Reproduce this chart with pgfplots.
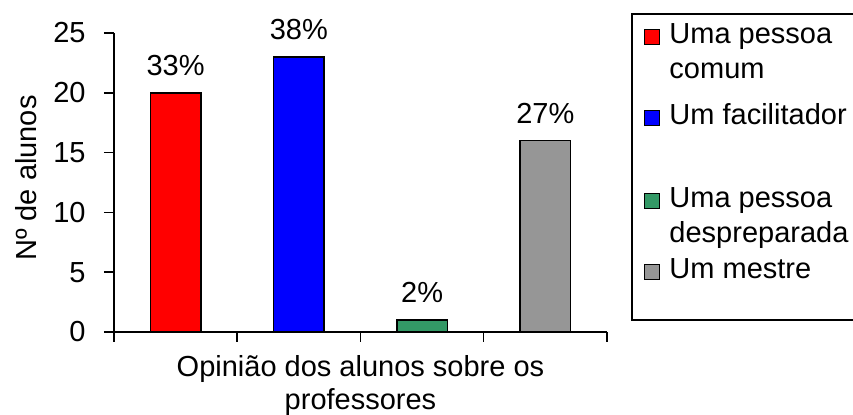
\documentclass[border=0pt]{standalone}
\usepackage{fontspec}
\setmainfont{Liberation Sans}
\usepackage{pgfplots}
\pgfplotsset{compat=1.18}

\definecolor{barred}{RGB}{255,0,0}
\definecolor{barblue}{RGB}{0,0,255}
\definecolor{bargreen}{RGB}{51,153,102}
\definecolor{bargray}{RGB}{150,150,150}

% bar style; the argument is the room kept below the legend row
\pgfplotsset{
  mybar/.style={
    ybar, bar width=0.41, bar shift=0pt,
    draw=black, line width=0.75pt,
    legend image code/.code={%
      \draw[##1,draw=black,line width=0.75pt] (0pt,-0.5pt) rectangle (7.5pt,7pt);
      \path[draw=none,fill=none] (0pt,11pt) -- (0pt,-#1);},
  },
}

\begin{document}
\fontsize{14.5}{17.5}\selectfont
\begin{tikzpicture}
\begin{axis}[
  name=ax, at={(0,0)}, anchor=south west,
  scale only axis, width=246.5pt, height=149.5pt,
  xmin=0, xmax=4, ymin=0, ymax=25,
  axis lines*=left,
  axis line style={line width=0.75pt, black},
  xtick={0,1,2,3,4}, xticklabels={},
  ytick={0,5,10,15,20,25},
  tick align=outside, major tick length=5pt,
  tick style={line width=0.75pt, black},
  /pgf/number format/assume math mode=true,
  yticklabel style={anchor=east, inner sep=0pt, xshift=-9pt},
  ylabel={Nº de alunos},
  ylabel style={at={(axis description cs:-0.1562,0.515)}, anchor=base, inner sep=0pt},
  xlabel={\parbox[t]{300pt}{\centering\fontsize{14.5}{16.5}\selectfont Opinião dos alunos sobre os\\professores}},
  xlabel style={at={(axis description cs:0.5,-0.1495)}, anchor=base, inner sep=0pt},
  clip=false,
  nodes near coords,
  point meta=explicit symbolic,
  every node near coord/.append style={inner sep=0pt, text depth=0pt, yshift=8.25pt},
  legend style={
    at={(axis description cs:1.0507,1.0635)}, anchor=north west,
    draw=none, fill=none, inner xsep=6pt, inner ysep=1.75pt, outer sep=0pt,
    row sep=0pt, column sep=2.5pt,
    cells={anchor=base west, inner sep=0pt},
  },
]
\addplot[mybar=27.5pt, fill=barred] coordinates {(0.5,20) [33\%]};
\addlegendentry{\parbox[t]{110pt}{\rule{0pt}{11pt}Uma pessoa\\comum}}
\addplot[mybar=28.5pt, fill=barblue] coordinates {(1.5,23) [38\%]};
\addlegendentry{\parbox[t]{110pt}{\rule{0pt}{11pt}Um facilitador}}
\addplot[mybar=22.5pt, fill=bargreen] coordinates {(2.5,1) [2\%]};
\addlegendentry{\parbox[t]{110pt}{\rule{0pt}{11pt}Uma pessoa\\despreparada}}
\addplot[mybar=0.5pt, fill=bargray] coordinates {(3.5,16) [27\%]};
\addlegendentry{\parbox[t]{110pt}{\rule{0pt}{11pt}Um mestre}}

% legend frame
\draw[line width=0.75pt] (axis description cs:1.0507,1.0635) rectangle (axis description cs:1.52,0.0401);
\end{axis}
\pgfresetboundingbox
\useasboundingbox ([shift={(-57pt,-41.5pt)}]ax.south west) rectangle ([shift={(369.5pt,166pt)}]ax.south west);
\end{tikzpicture}
\end{document}
